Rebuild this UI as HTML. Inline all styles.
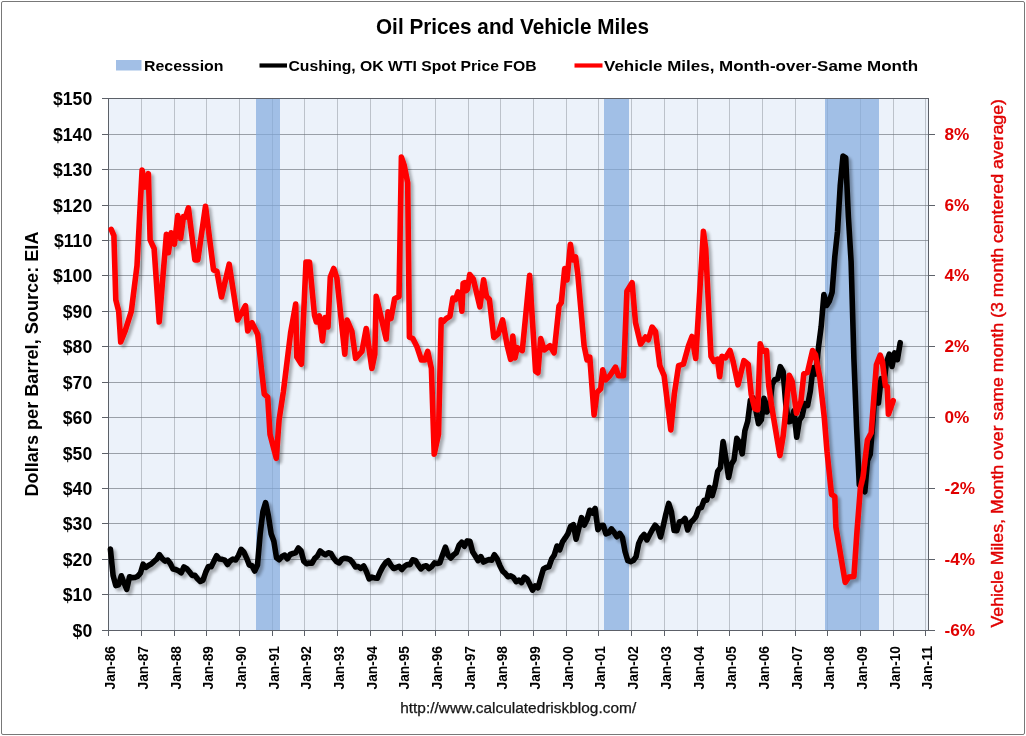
<!DOCTYPE html>
<html><head><meta charset="utf-8"><style>
html,body{margin:0;padding:0;background:#fff;width:1026px;height:736px;overflow:hidden}
svg{display:block;will-change:transform}
text{font-family:"Liberation Sans",sans-serif}
</style></head><body>
<svg width="1026" height="736" viewBox="0 0 1026 736">
<defs>
<filter id="sh" x="-5%" y="-5%" width="110%" height="110%">
<feGaussianBlur in="SourceAlpha" stdDeviation="1.6"/>
<feOffset dx="2.5" dy="3" result="b"/>
<feComponentTransfer><feFuncA type="linear" slope="0.3"/></feComponentTransfer>
<feMerge><feMergeNode/><feMergeNode in="SourceGraphic"/></feMerge>
</filter>
</defs>
<rect x="0" y="0" width="1026" height="736" fill="#fff"/>
<rect x="1.5" y="1.5" width="1023" height="733" rx="1.5" fill="#fff" stroke="#787878" stroke-width="1"/>

<rect x="108" y="98" width="820" height="532" fill="#ecf2fa"/>
<path d="M108,594.5 H928 M108,559.5 H928 M108,523.5 H928 M108,488.5 H928 M108,453.5 H928 M108,417.5 H928 M108,382.5 H928 M108,346.5 H928 M108,311.5 H928 M108,275.5 H928 M108,240.5 H928 M108,205.5 H928 M108,169.5 H928 M108,134.5 H928 M108,98.5 H928" stroke="#5f646c" stroke-opacity="0.58" stroke-width="1" fill="none"/>
<path d="M141.5,98 V630 M174.5,98 V630 M206.5,98 V630 M239.5,98 V630 M272.5,98 V630 M304.5,98 V630 M337.5,98 V630 M370.5,98 V630 M402.5,98 V630 M435.5,98 V630 M468.5,98 V630 M500.5,98 V630 M533.5,98 V630 M566.5,98 V630 M598.5,98 V630 M631.5,98 V630 M664.5,98 V630 M697.5,98 V630 M729.5,98 V630 M762.5,98 V630 M795.5,98 V630 M827.5,98 V630 M860.5,98 V630 M893.5,98 V630 M925.5,98 V630" stroke="#6f747c" stroke-opacity="0.38" stroke-width="1" fill="none"/>
<rect x="256" y="98" width="24" height="532" fill="#82a9dd" fill-opacity="0.7"/>
<rect x="604" y="98" width="25" height="532" fill="#82a9dd" fill-opacity="0.7"/>
<rect x="825" y="98" width="54" height="532" fill="#82a9dd" fill-opacity="0.7"/>
<path d="M108.5,98 V636 M102,630.5 H935 M928.5,98 V630 M108,98.5 H928.5 M102,630.5 H108 M102,594.5 H108 M102,559.5 H108 M102,523.5 H108 M102,488.5 H108 M102,453.5 H108 M102,417.5 H108 M102,382.5 H108 M102,346.5 H108 M102,311.5 H108 M102,275.5 H108 M102,240.5 H108 M102,205.5 H108 M102,169.5 H108 M102,134.5 H108 M102,98.5 H108 M928,630.5 H935 M928,559.5 H935 M928,488.5 H935 M928,417.5 H935 M928,346.5 H935 M928,275.5 H935 M928,205.5 H935 M928,134.5 H935 M108.5,630 V636 M141.5,630 V636 M174.5,630 V636 M206.5,630 V636 M239.5,630 V636 M272.5,630 V636 M304.5,630 V636 M337.5,630 V636 M370.5,630 V636 M402.5,630 V636 M435.5,630 V636 M468.5,630 V636 M500.5,630 V636 M533.5,630 V636 M566.5,630 V636 M598.5,630 V636 M631.5,630 V636 M664.5,630 V636 M697.5,630 V636 M729.5,630 V636 M762.5,630 V636 M795.5,630 V636 M827.5,630 V636 M860.5,630 V636 M893.5,630 V636 M925.5,630 V636" stroke="#5c6068" stroke-width="1" fill="none"/>
<path d="M110.4,549.1 L113.1,575.5 L115.8,585.6 L118.6,584.8 L121.3,575.8 L124.0,582.7 L126.7,589.3 L129.5,576.8 L132.2,577.6 L134.9,577.5 L137.6,576.4 L140.4,573.2 L143.1,564.2 L145.8,567.4 L148.5,565.5 L151.2,564.1 L154.0,561.4 L156.7,559.2 L159.4,554.7 L162.1,558.4 L164.9,561.1 L167.6,560.0 L170.3,563.5 L173.0,569.1 L175.8,569.6 L178.5,570.8 L181.2,572.9 L183.9,567.0 L186.7,568.6 L189.4,571.8 L192.1,575.4 L194.8,575.3 L197.5,578.8 L200.3,581.5 L203.0,580.2 L205.7,572.3 L208.4,566.5 L211.2,566.8 L213.9,561.3 L216.6,555.7 L219.3,559.0 L222.1,559.3 L224.8,560.2 L227.5,564.5 L230.2,560.9 L232.9,559.1 L235.7,560.0 L238.4,555.6 L241.1,549.3 L243.8,552.0 L246.6,558.1 L249.3,565.0 L252.0,565.8 L254.7,571.1 L257.5,565.0 L260.2,533.6 L262.9,511.6 L265.6,502.6 L268.4,515.8 L271.1,533.7 L273.8,540.9 L276.5,557.8 L279.2,559.8 L282.0,556.5 L284.7,555.1 L287.4,558.8 L290.1,554.5 L292.9,553.5 L295.6,552.8 L298.3,548.0 L301.0,550.7 L303.8,561.2 L306.5,563.7 L309.2,563.0 L311.9,563.3 L314.6,558.6 L317.4,556.0 L320.1,551.0 L322.8,553.2 L325.5,554.7 L328.3,552.8 L331.0,553.5 L333.7,558.3 L336.4,561.5 L339.2,562.9 L341.9,559.1 L344.6,558.3 L347.3,558.6 L350.1,559.6 L352.8,562.7 L355.5,566.9 L358.2,566.5 L360.9,568.3 L363.7,566.0 L366.4,571.5 L369.1,578.9 L371.8,577.1 L374.6,577.9 L377.3,578.3 L380.0,572.1 L382.7,566.9 L385.5,562.8 L388.2,560.7 L390.9,565.2 L393.6,568.5 L396.3,567.5 L399.1,566.3 L401.8,569.5 L404.5,566.4 L407.2,564.5 L410.0,564.6 L412.7,559.8 L415.4,560.4 L418.1,565.0 L420.9,568.9 L423.6,566.5 L426.3,565.7 L429.0,568.6 L431.7,566.6 L434.5,562.9 L437.2,563.5 L439.9,562.7 L442.6,554.7 L445.4,547.1 L448.1,555.3 L450.8,558.0 L453.5,554.9 L456.3,552.7 L459.0,545.4 L461.7,542.2 L464.4,546.3 L467.2,540.9 L469.9,541.3 L472.6,551.7 L475.3,556.0 L478.0,560.5 L480.8,556.6 L483.5,562.1 L486.2,560.7 L488.9,559.6 L491.7,560.2 L494.4,554.7 L497.1,558.8 L499.8,565.4 L502.6,571.1 L505.3,573.4 L508.0,576.7 L510.7,575.9 L513.4,577.5 L516.2,581.7 L518.9,580.1 L521.6,582.6 L524.3,577.1 L527.1,579.1 L529.8,584.3 L532.5,590.1 L535.2,586.0 L538.0,587.8 L540.7,578.3 L543.4,569.0 L546.1,567.5 L548.9,566.8 L551.6,559.1 L554.3,554.9 L557.0,546.0 L559.7,549.9 L562.5,541.8 L565.2,537.9 L567.9,533.7 L570.6,526.3 L573.4,524.6 L576.1,539.2 L578.8,528.3 L581.5,517.6 L584.3,525.1 L587.0,519.6 L589.7,510.3 L592.4,513.0 L595.1,508.4 L597.9,529.6 L600.6,525.5 L603.3,525.4 L606.0,533.8 L608.8,532.9 L611.5,528.9 L614.2,532.5 L616.9,536.7 L619.7,533.4 L622.4,537.5 L625.1,551.8 L627.8,560.7 L630.6,561.6 L633.3,560.5 L636.0,556.9 L638.7,543.4 L641.4,537.6 L644.2,534.5 L646.9,539.9 L649.6,534.8 L652.3,529.7 L655.1,525.2 L657.8,528.1 L660.5,537.0 L663.2,526.0 L666.0,513.6 L668.7,503.4 L671.4,511.6 L674.1,530.5 L676.8,530.7 L679.6,521.7 L682.3,521.4 L685.0,518.5 L687.7,530.0 L690.5,522.8 L693.2,520.1 L695.9,516.5 L698.6,508.8 L701.4,507.4 L704.1,500.2 L706.8,500.1 L709.5,487.6 L712.2,495.6 L715.0,485.9 L717.7,471.3 L720.4,467.6 L723.1,441.6 L725.9,458.6 L728.6,477.5 L731.3,464.4 L734.0,459.8 L736.8,438.4 L739.5,442.6 L742.2,453.8 L744.9,430.7 L747.7,421.3 L750.4,400.1 L753.1,398.0 L755.8,409.8 L758.5,423.7 L761.3,419.9 L764.0,398.3 L766.7,412.0 L769.4,408.3 L772.2,384.3 L774.9,379.4 L777.6,379.0 L780.3,366.7 L783.1,371.6 L785.8,404.3 L788.5,421.7 L791.2,421.0 L793.9,410.8 L796.7,437.2 L799.4,420.3 L802.1,416.2 L804.8,403.7 L807.6,405.5 L810.3,391.3 L813.0,367.8 L815.7,374.0 L818.5,347.2 L821.2,326.4 L823.9,294.6 L826.6,305.5 L829.4,301.0 L832.1,292.4 L834.8,256.8 L837.5,231.5 L840.2,186.1 L843.0,156.1 L845.7,157.9 L848.4,217.1 L851.1,261.5 L853.9,358.9 L856.6,427.3 L859.3,484.7 L862.0,482.6 L864.8,491.8 L867.5,460.5 L870.2,454.4 L872.9,421.2 L875.6,383.6 L878.4,403.1 L881.1,378.6 L883.8,384.4 L886.5,362.1 L889.3,354.1 L892.0,366.5 L894.7,352.9 L897.4,359.7 L900.2,342.7" stroke="#000" stroke-width="5.6" fill="none" stroke-linejoin="round" stroke-linecap="round" filter="url(#sh)"/>
<path d="M111.2,229.3 L113.9,235.6 L115.8,299.9 L118.7,311.3 L120.7,342.0 L125.0,331.3 L131.3,311.3 L137.0,265.6 L142.1,170.0 L145.0,187.1 L148.4,173.7 L150.1,239.9 L154.1,248.5 L159.2,322.0 L166.4,234.2 L168.4,252.8 L171.2,232.8 L174.4,244.2 L177.8,215.6 L180.6,238.5 L183.5,216.5 L185.5,217.1 L188.4,207.9 L194.9,259.9 L197.8,259.9 L205.5,206.2 L213.5,269.9 L216.9,271.3 L221.5,297.0 L229.2,264.2 L237.7,320.0 L245.5,305.6 L247.7,331.0 L252.0,322.8 L257.7,334.3 L261.4,368.5 L264.3,394.2 L267.7,397.1 L270.0,434.2 L276.3,458.4 L279.1,419.9 L283.4,391.4 L290.6,332.8 L295.7,304.0 L296.8,357.1 L301.4,364.2 L306.0,262.0 L309.5,262.0 L314.5,315.5 L316.4,322.0 L319.3,315.8 L322.4,341.0 L325.0,317.5 L328.0,327.0 L330.3,277.0 L333.7,268.5 L336.9,278.2 L344.8,354.2 L347.1,320.0 L351.9,331.4 L355.6,358.5 L361.9,351.4 L366.2,328.5 L371.9,368.5 L374.8,354.2 L376.2,296.4 L386.2,339.0 L388.0,311.9 L391.0,318.5 L394.6,298.8 L399.0,296.6 L401.4,157.1 L404.3,165.7 L407.7,182.8 L409.4,337.1 L412.8,338.5 L417.1,347.1 L421.4,360.0 L424.8,360.0 L427.7,351.4 L431.4,368.5 L434.2,454.2 L438.5,434.2 L441.2,319.9 L443.4,321.4 L446.3,318.5 L449.9,316.3 L452.9,298.0 L455.5,299.5 L458.0,291.9 L460.2,293.6 L461.9,311.2 L463.1,283.4 L464.9,282.7 L466.0,290.7 L467.5,289.2 L469.7,274.6 L473.3,279.0 L479.9,306.8 L483.6,279.7 L486.5,296.5 L489.4,299.5 L493.8,337.5 L498.2,333.8 L502.6,319.9 L507.0,344.8 L510.6,359.4 L512.8,336.0 L515.0,358.0 L517.2,347.7 L522.3,350.6 L529.6,275.4 L535.6,371.4 L537.9,372.8 L540.7,338.5 L544.2,350.0 L549.9,345.7 L554.1,352.8 L559.0,306.0 L561.3,302.7 L564.7,268.5 L567.0,279.9 L570.4,244.2 L572.7,259.9 L575.6,257.0 L577.8,274.2 L584.1,345.7 L587.0,360.0 L589.8,357.1 L594.1,415.0 L597.0,392.4 L600.7,388.7 L602.7,369.9 L605.5,379.9 L609.8,375.7 L615.5,367.1 L618.4,375.7 L623.5,375.7 L626.9,291.3 L632.1,282.7 L635.5,322.7 L640.6,344.1 L645.5,337.0 L648.4,339.8 L652.1,327.1 L655.5,331.4 L659.8,365.7 L664.1,375.7 L670.8,429.9 L674.3,394.2 L678.6,365.7 L683.4,364.2 L688.5,345.7 L692.0,336.5 L695.7,358.5 L703.4,231.4 L705.7,248.5 L711.0,356.3 L713.9,361.4 L717.5,359.2 L719.7,376.8 L721.9,356.3 L725.6,357.8 L730.0,350.5 L732.9,360.7 L738.0,384.8 L743.9,360.7 L748.2,364.4 L751.2,394.3 L754.8,408.9 L757.7,409.7 L760.2,343.9 L762.9,351.2 L766.5,350.5 L768.7,385.6 L771.6,406.0 L779.9,455.6 L783.3,435.0 L789.2,375.3 L792.1,381.2 L796.5,413.3 L800.9,401.6 L803.8,373.9 L807.5,372.4 L812.6,350.5 L815.5,354.9 L819.9,378.2 L824.3,417.7 L827.0,451.3 L831.5,494.3 L834.8,496.5 L835.9,527.0 L845.2,582.4 L848.9,577.0 L853.9,576.5 L857.0,531.3 L860.4,487.8 L863.0,477.0 L867.4,440.0 L871.2,432.7 L876.4,364.8 L880.2,355.1 L882.4,361.9 L885.4,385.8 L887.2,386.5 L888.4,414.2 L893.2,400.7" stroke="#ff0000" stroke-width="5.6" fill="none" stroke-linejoin="round" stroke-linecap="round" filter="url(#sh)"/>
<text x="376" y="33.9" font-size="21.3" font-weight="bold" fill="#000" text-anchor="start" textLength="273" lengthAdjust="spacingAndGlyphs">Oil Prices and Vehicle Miles</text>
<rect x="116" y="60" width="25.5" height="10.5" fill="#a2bfe6"/>
<text x="144" y="70.5" font-size="15" font-weight="bold" fill="#000" text-anchor="start" textLength="79.5" lengthAdjust="spacingAndGlyphs">Recession</text>
<path d="M259.5,65.5 H287" stroke="#000" stroke-width="4.2"/>
<text x="288.5" y="70.5" font-size="15" font-weight="bold" fill="#000" text-anchor="start" textLength="248" lengthAdjust="spacingAndGlyphs">Cushing, OK WTI Spot Price FOB</text>
<path d="M574.5,65.5 H602.5" stroke="#ff0000" stroke-width="4.2"/>
<text x="604" y="70.5" font-size="15" font-weight="bold" fill="#000" text-anchor="start" textLength="314" lengthAdjust="spacingAndGlyphs">Vehicle Miles, Month-over-Same Month</text>
<text x="92.2" y="636.5" font-size="17.6" font-weight="bold" fill="#000" text-anchor="end">$0</text>
<text x="92.2" y="600.5" font-size="17.6" font-weight="bold" fill="#000" text-anchor="end">$10</text>
<text x="92.2" y="565.5" font-size="17.6" font-weight="bold" fill="#000" text-anchor="end">$20</text>
<text x="92.2" y="529.5" font-size="17.6" font-weight="bold" fill="#000" text-anchor="end">$30</text>
<text x="92.2" y="494.5" font-size="17.6" font-weight="bold" fill="#000" text-anchor="end">$40</text>
<text x="92.2" y="459.5" font-size="17.6" font-weight="bold" fill="#000" text-anchor="end">$50</text>
<text x="92.2" y="423.5" font-size="17.6" font-weight="bold" fill="#000" text-anchor="end">$60</text>
<text x="92.2" y="388.5" font-size="17.6" font-weight="bold" fill="#000" text-anchor="end">$70</text>
<text x="92.2" y="352.5" font-size="17.6" font-weight="bold" fill="#000" text-anchor="end">$80</text>
<text x="92.2" y="317.5" font-size="17.6" font-weight="bold" fill="#000" text-anchor="end">$90</text>
<text x="92.2" y="281.5" font-size="17.6" font-weight="bold" fill="#000" text-anchor="end">$100</text>
<text x="92.2" y="246.5" font-size="17.6" font-weight="bold" fill="#000" text-anchor="end">$110</text>
<text x="92.2" y="211.5" font-size="17.6" font-weight="bold" fill="#000" text-anchor="end">$120</text>
<text x="92.2" y="175.5" font-size="17.6" font-weight="bold" fill="#000" text-anchor="end">$130</text>
<text x="92.2" y="140.5" font-size="17.6" font-weight="bold" fill="#000" text-anchor="end">$140</text>
<text x="92.2" y="104.5" font-size="17.6" font-weight="bold" fill="#000" text-anchor="end">$150</text>
<text x="944.5" y="636.3" font-size="17.2" font-weight="bold" fill="#e00000" text-anchor="start">-6%</text>
<text x="944.5" y="565.3" font-size="17.2" font-weight="bold" fill="#e00000" text-anchor="start">-4%</text>
<text x="944.5" y="494.3" font-size="17.2" font-weight="bold" fill="#e00000" text-anchor="start">-2%</text>
<text x="944.5" y="423.3" font-size="17.2" font-weight="bold" fill="#e00000" text-anchor="start">0%</text>
<text x="944.5" y="352.3" font-size="17.2" font-weight="bold" fill="#e00000" text-anchor="start">2%</text>
<text x="944.5" y="281.3" font-size="17.2" font-weight="bold" fill="#e00000" text-anchor="start">4%</text>
<text x="944.5" y="211.3" font-size="17.2" font-weight="bold" fill="#e00000" text-anchor="start">6%</text>
<text x="944.5" y="140.3" font-size="17.2" font-weight="bold" fill="#e00000" text-anchor="start">8%</text>
<text x="115" y="689.5" font-size="14" font-weight="bold" fill="#000" text-anchor="start" textLength="43.5" lengthAdjust="spacingAndGlyphs" transform="rotate(-90 115 689.5)">Jan-86</text>
<text x="148" y="689.5" font-size="14" font-weight="bold" fill="#000" text-anchor="start" textLength="43.5" lengthAdjust="spacingAndGlyphs" transform="rotate(-90 148 689.5)">Jan-87</text>
<text x="181" y="689.5" font-size="14" font-weight="bold" fill="#000" text-anchor="start" textLength="43.5" lengthAdjust="spacingAndGlyphs" transform="rotate(-90 181 689.5)">Jan-88</text>
<text x="213" y="689.5" font-size="14" font-weight="bold" fill="#000" text-anchor="start" textLength="43.5" lengthAdjust="spacingAndGlyphs" transform="rotate(-90 213 689.5)">Jan-89</text>
<text x="246" y="689.5" font-size="14" font-weight="bold" fill="#000" text-anchor="start" textLength="43.5" lengthAdjust="spacingAndGlyphs" transform="rotate(-90 246 689.5)">Jan-90</text>
<text x="279" y="689.5" font-size="14" font-weight="bold" fill="#000" text-anchor="start" textLength="43.5" lengthAdjust="spacingAndGlyphs" transform="rotate(-90 279 689.5)">Jan-91</text>
<text x="311" y="689.5" font-size="14" font-weight="bold" fill="#000" text-anchor="start" textLength="43.5" lengthAdjust="spacingAndGlyphs" transform="rotate(-90 311 689.5)">Jan-92</text>
<text x="344" y="689.5" font-size="14" font-weight="bold" fill="#000" text-anchor="start" textLength="43.5" lengthAdjust="spacingAndGlyphs" transform="rotate(-90 344 689.5)">Jan-93</text>
<text x="377" y="689.5" font-size="14" font-weight="bold" fill="#000" text-anchor="start" textLength="43.5" lengthAdjust="spacingAndGlyphs" transform="rotate(-90 377 689.5)">Jan-94</text>
<text x="409" y="689.5" font-size="14" font-weight="bold" fill="#000" text-anchor="start" textLength="43.5" lengthAdjust="spacingAndGlyphs" transform="rotate(-90 409 689.5)">Jan-95</text>
<text x="442" y="689.5" font-size="14" font-weight="bold" fill="#000" text-anchor="start" textLength="43.5" lengthAdjust="spacingAndGlyphs" transform="rotate(-90 442 689.5)">Jan-96</text>
<text x="475" y="689.5" font-size="14" font-weight="bold" fill="#000" text-anchor="start" textLength="43.5" lengthAdjust="spacingAndGlyphs" transform="rotate(-90 475 689.5)">Jan-97</text>
<text x="507" y="689.5" font-size="14" font-weight="bold" fill="#000" text-anchor="start" textLength="43.5" lengthAdjust="spacingAndGlyphs" transform="rotate(-90 507 689.5)">Jan-98</text>
<text x="540" y="689.5" font-size="14" font-weight="bold" fill="#000" text-anchor="start" textLength="43.5" lengthAdjust="spacingAndGlyphs" transform="rotate(-90 540 689.5)">Jan-99</text>
<text x="573" y="689.5" font-size="14" font-weight="bold" fill="#000" text-anchor="start" textLength="43.5" lengthAdjust="spacingAndGlyphs" transform="rotate(-90 573 689.5)">Jan-00</text>
<text x="605" y="689.5" font-size="14" font-weight="bold" fill="#000" text-anchor="start" textLength="43.5" lengthAdjust="spacingAndGlyphs" transform="rotate(-90 605 689.5)">Jan-01</text>
<text x="638" y="689.5" font-size="14" font-weight="bold" fill="#000" text-anchor="start" textLength="43.5" lengthAdjust="spacingAndGlyphs" transform="rotate(-90 638 689.5)">Jan-02</text>
<text x="671" y="689.5" font-size="14" font-weight="bold" fill="#000" text-anchor="start" textLength="43.5" lengthAdjust="spacingAndGlyphs" transform="rotate(-90 671 689.5)">Jan-03</text>
<text x="704" y="689.5" font-size="14" font-weight="bold" fill="#000" text-anchor="start" textLength="43.5" lengthAdjust="spacingAndGlyphs" transform="rotate(-90 704 689.5)">Jan-04</text>
<text x="736" y="689.5" font-size="14" font-weight="bold" fill="#000" text-anchor="start" textLength="43.5" lengthAdjust="spacingAndGlyphs" transform="rotate(-90 736 689.5)">Jan-05</text>
<text x="769" y="689.5" font-size="14" font-weight="bold" fill="#000" text-anchor="start" textLength="43.5" lengthAdjust="spacingAndGlyphs" transform="rotate(-90 769 689.5)">Jan-06</text>
<text x="802" y="689.5" font-size="14" font-weight="bold" fill="#000" text-anchor="start" textLength="43.5" lengthAdjust="spacingAndGlyphs" transform="rotate(-90 802 689.5)">Jan-07</text>
<text x="834" y="689.5" font-size="14" font-weight="bold" fill="#000" text-anchor="start" textLength="43.5" lengthAdjust="spacingAndGlyphs" transform="rotate(-90 834 689.5)">Jan-08</text>
<text x="867" y="689.5" font-size="14" font-weight="bold" fill="#000" text-anchor="start" textLength="43.5" lengthAdjust="spacingAndGlyphs" transform="rotate(-90 867 689.5)">Jan-09</text>
<text x="900" y="689.5" font-size="14" font-weight="bold" fill="#000" text-anchor="start" textLength="43.5" lengthAdjust="spacingAndGlyphs" transform="rotate(-90 900 689.5)">Jan-10</text>
<text x="932" y="689.5" font-size="14" font-weight="bold" fill="#000" text-anchor="start" textLength="43.5" lengthAdjust="spacingAndGlyphs" transform="rotate(-90 932 689.5)">Jan-11</text>
<text x="38" y="496.5" font-size="19" font-weight="bold" fill="#000" text-anchor="start" textLength="265" lengthAdjust="spacingAndGlyphs" transform="rotate(-90 38 496.5)">Dollars per Barrel, Source: EIA</text>
<text x="1003" y="627.5" font-size="16.3" font-weight="normal" fill="#e00000" text-anchor="start" textLength="528.5" lengthAdjust="spacingAndGlyphs" transform="rotate(-90 1003 627.5)" stroke="#e00000" stroke-width="0.4">Vehicle Miles, Month over same month (3 month centered average)</text>
<text x="400.2" y="713.3" font-size="14.5" font-weight="normal" fill="#161616" text-anchor="start" textLength="236" lengthAdjust="spacingAndGlyphs" stroke="#161616" stroke-width="0.25">http://www.calculatedriskblog.com/</text>
</svg></body></html>
